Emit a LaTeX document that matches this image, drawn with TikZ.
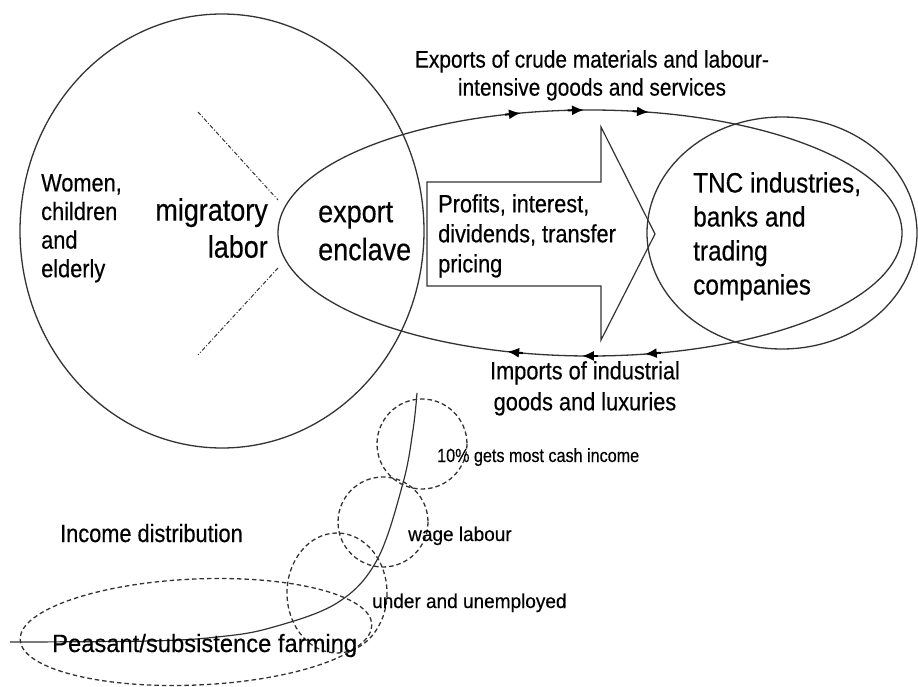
\documentclass[tikz,border=0pt]{standalone}
\usepackage{fontspec}
\setmainfont{Liberation Sans}
\newfontfamily\fn[FakeStretch=0.87,FakeBold=0.4]{Liberation Sans}
\newfontfamily\fw[FakeStretch=0.95,FakeBold=0.3]{Liberation Sans}
\newfontfamily\fc[FakeStretch=0.85,FakeBold=0.3]{Liberation Sans}
\usetikzlibrary{arrows.meta}
\definecolor{ln}{HTML}{333333}
\begin{document}
\begin{tikzpicture}[x=1pt,y=-1pt,
  shapeline/.style={draw=ln, line width=1.3pt},
  dashline/.style={draw=ln, line width=1.3pt, dash pattern=on 4.5pt off 3pt},
  dotline/.style={draw=ln, line width=1pt, dash pattern=on 4pt off 2pt on 1pt off 2pt},
  flowmark/.style={draw=black, line width=2pt, -{Latex[length=12pt,width=10pt]}},
  lbl/.style={inner sep=0pt, text=black},
  ]
\useasboundingbox (0,0) rectangle (918,687);

% main shapes
\draw[shapeline] (222,231) ellipse [x radius=202, y radius=217];
\draw[shapeline] (590,233) ellipse [x radius=312, y radius=123];
\draw[shapeline] (782,233) ellipse [x radius=135, y radius=116];

% block arrow
\draw[shapeline, line width=1.2pt] (427,182) -- (601,182) -- (601,127) -- (655,234)
  -- (601,340) -- (601,286) -- (427,286) -- cycle;

% flow markers on the enclave ellipse
\foreach \t in {257.2,268.9,280.9}
  \draw[flowmark, shift={(590,233)}] (\t-3:312 and 123) -- (\t:312 and 123);
\foreach \t in {79.9,91.5,105.4}
  \draw[flowmark, shift={(590,233)}] (\t-3:312 and 123) -- (\t:312 and 123);

% migratory labor lines
\coordinate (m1) at (198,112);
\coordinate (m2) at (278,200);
\coordinate (m3) at (278,268);
\coordinate (m4) at (198,355);
\draw[dotline] (m1) -- (m2);
\draw[dotline] (m3) -- (m4);

% income distribution
\draw[dashline] (422,444) circle [radius=45];
\draw[dashline] (383,522) circle [radius=45];
\draw[dashline] (337,593) ellipse [x radius=50, y radius=60];
\draw[dashline, rotate around={2.5:(196,632)}] (196,632) ellipse [x radius=176, y radius=53];
\draw[shapeline, line width=1.2pt] plot[smooth, tension=0.6] coordinates
  {(10,642) (150,641) (217,637) (270,628) (337,603) (377,560) (403,483) (413,430) (417,393)};

% texts
\node[lbl, anchor=north west, align=left, font=\fn\fontsize{25}{28.6}\selectfont] (women) at (41,174) {Women,\\children\\and\\elderly};
\node[lbl, anchor=north east, align=right, font=\fn\fontsize{31}{37}\selectfont] (migr) at (268,198) {migratory\\labor};
\node[lbl, anchor=north west, align=left, font=\fn\fontsize{31}{38}\selectfont] (encl) at (318,202) {export\\enclave};
\node[lbl, anchor=north west, align=left, font=\fn\fontsize{25}{30}\selectfont] (profits) at (438,194) {Profits, interest,\\dividends, transfer\\pricing};
\node[lbl, anchor=north west, align=left, font=\fn\fontsize{28}{34}\selectfont] (tnc) at (693,172) {TNC industries,\\banks and\\trading\\companies};
\node[lbl, anchor=north, align=center, font=\fn\fontsize{24}{28}\selectfont] (exports) at (592,50) {Exports of crude materials and labour-\\intensive goods and services};
\node[lbl, anchor=north, align=center, font=\fn\fontsize{25}{31}\selectfont] (imports) at (585,361) {Imports of industrial\\goods and luxuries};
\node[lbl, anchor=base west, font=\fc\fontsize{19}{22}\selectfont] (top10) at (437,462) {10\% gets most cash income};
\node[lbl, anchor=base west, font=\fw\fontsize{20}{24}\selectfont] (wage) at (408,541) {wage labour};
\node[lbl, anchor=base west, font=\fw\fontsize{20}{24}\selectfont] (under) at (372,608) {under and unemployed};
\node[lbl, anchor=base west, font=\fn\fontsize{25}{30}\selectfont] (income) at (60,542) {Income distribution};
\node[lbl, anchor=base west, font=\fw\fontsize{25}{30}\selectfont] (peasant) at (52,652) {Peasant/subsistence farming};
\end{tikzpicture}
\end{document}
